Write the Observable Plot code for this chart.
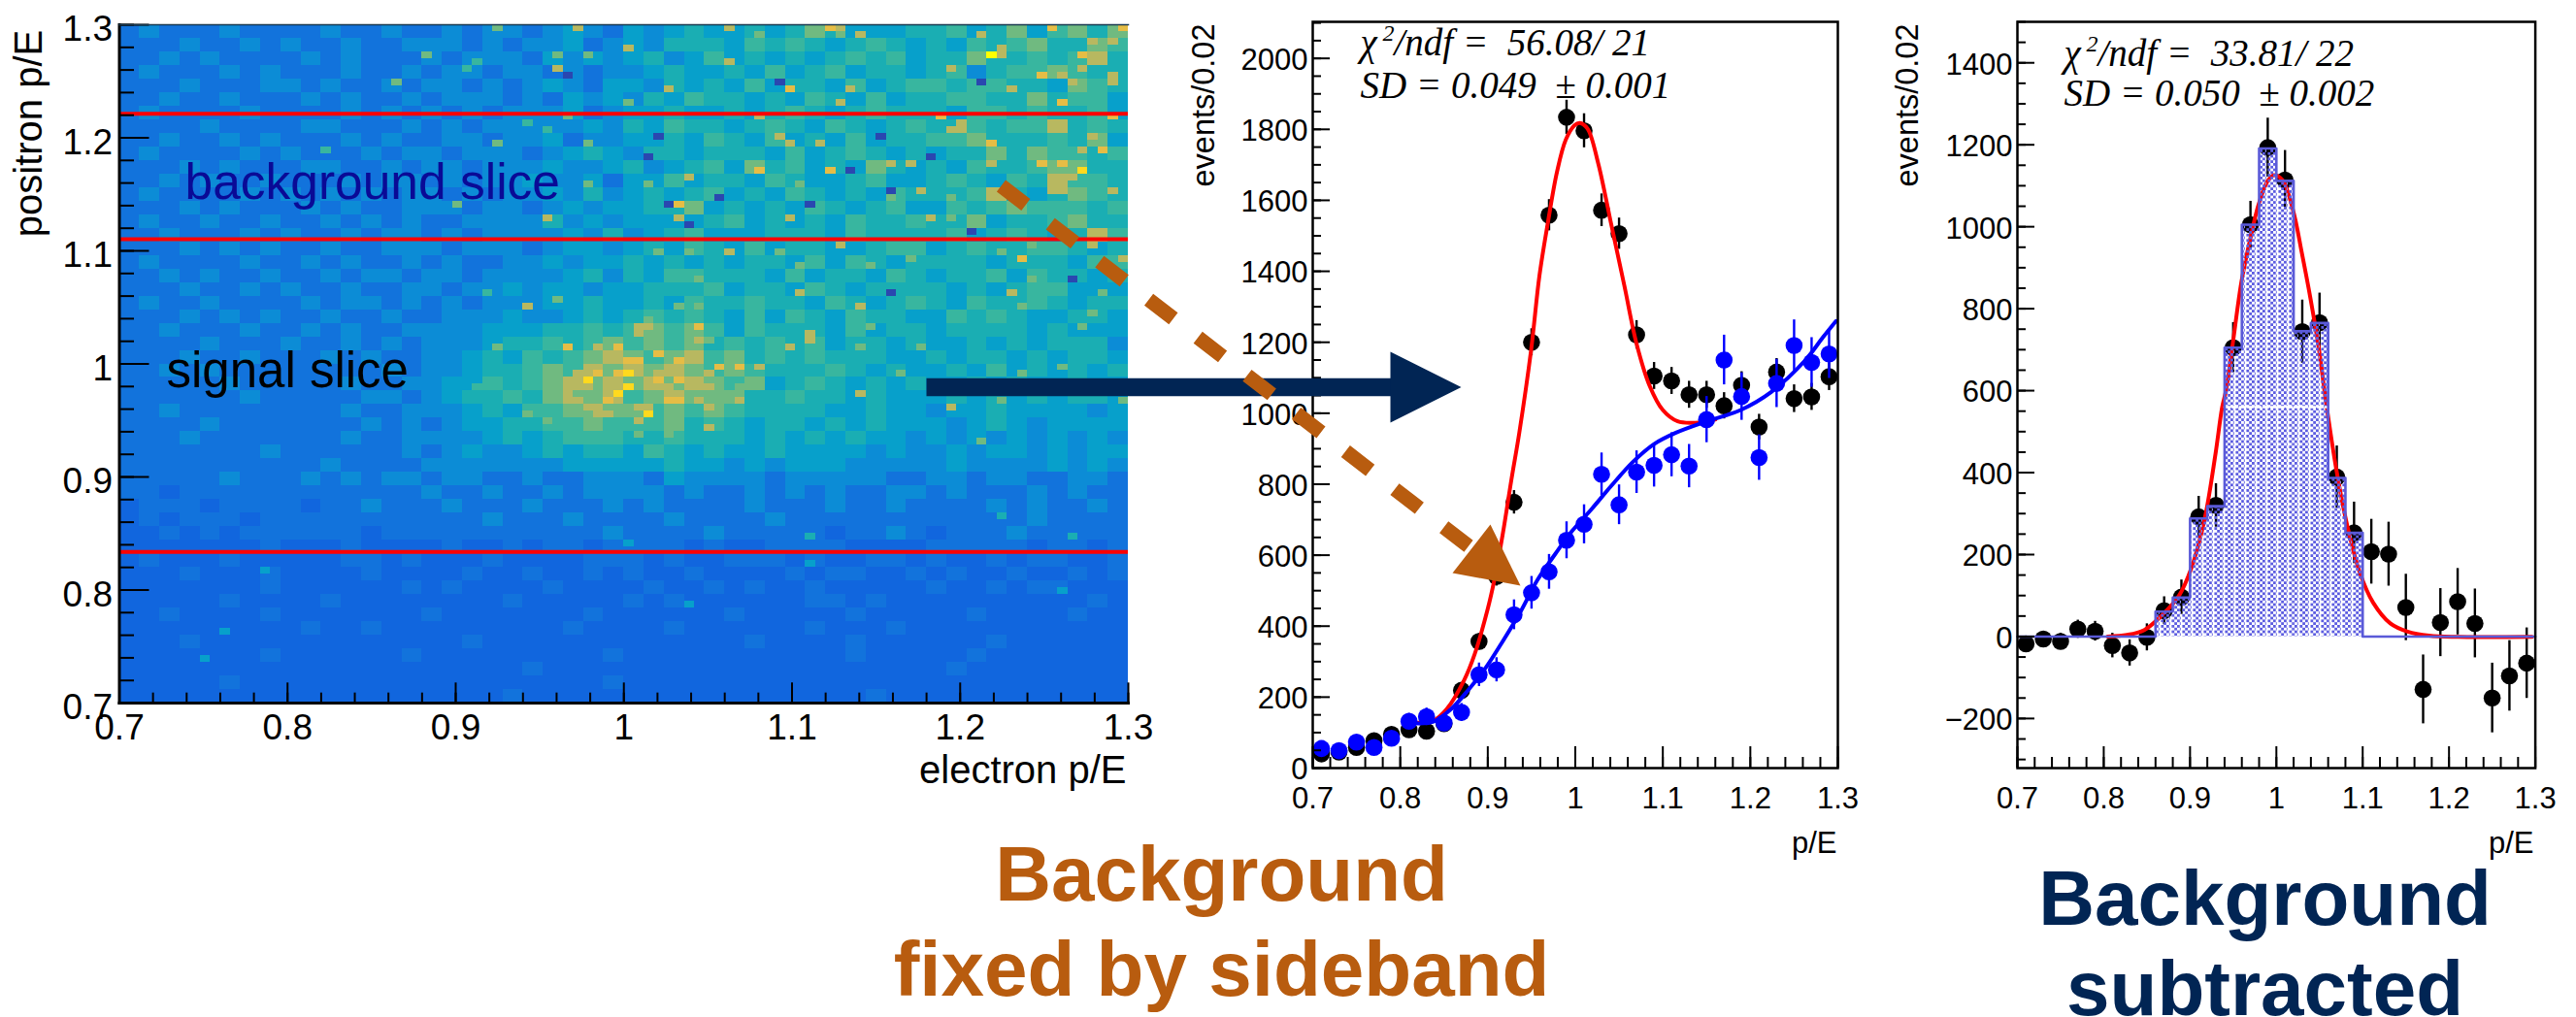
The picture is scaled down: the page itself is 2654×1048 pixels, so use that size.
<!DOCTYPE html>
<html><head><meta charset="utf-8">
<script src="https://cdn.jsdelivr.net/npm/d3@7"></script>
<script src="https://cdn.jsdelivr.net/npm/@observablehq/plot@0.6"></script>
<style>
html,body{margin:0;padding:0;background:#fff;overflow:hidden}
#page{position:relative;width:2654px;height:1048px;overflow:hidden}
#page svg.plot{position:absolute;top:0;overflow:visible;background:transparent}
</style></head><body>
<svg width="0" height="0" style="position:absolute"><defs>
<pattern id="hatch" width="11" height="5.6" patternUnits="userSpaceOnUse">
<rect x="1.4" y="0" width="2.8" height="2.8" fill="#5c5ce0"/><rect x="7" y="0" width="2.8" height="2.8" fill="#5c5ce0"/>
<rect x="4.2" y="2.8" width="2.8" height="2.8" fill="#5c5ce0"/><rect x="9.8" y="2.8" width="1.2" height="2.8" fill="#8a8ae8"/>
</pattern>
</defs></svg>
<div id="page"></div>
<script>
// ---------- heat map: coarse levels (2x2 bins each), rows top to bottom ----------
const heatRows = [
"23222322223223223233234324345445457544455645746757",
"22232232322322333232334234355546565456545465675576",
"22323222232322232333243434534645454565645575565685",
"23222323222322323323323233454454645645545635667655",
"22232223323223233232343244354546455464566566554765",
"22322322232322323332324343546554546546455665575664",
"23222232222323232323334234454454565456555466565564",
"22223222233222323233333435465545654654565565668565",
"22322323222323223323342334454654645464556675556574",
"23222232322232332333234543554555464565454557576656",
"22232322233223233233343345345647564547545465567755",
"22323223222323323233433424464554654456445654658665",
"23222232323232332323343534545645465454655568545765",
"22232322232322333233234344557454546545644656766656",
"23223223223232322333353434444564545465565574556755",
"22322232322323323233334353456444555465555645654586",
"22232323223223332333234434546546455445664565566545",
"23222232232322323223343445454545546465455554555466",
"22323223223233233233334535466555464554654556465545",
"22232232322322332334344344555645546545555454566444",
"23223222232332323233344544546556554654565465565455",
"22232323223223223334334545656546465465544656544554",
"22322232232322333344455656767646555464554555545444",
"22223222322323233345565676767565656455454454545553",
"22232232223232233454656787678675656555445455454554",
"22323222222223233455676878787676555654544546454545",
"22222322222322334465678787878767456545454454544544",
"22222232222233234556578786787775565545444545454554",
"22322222222322333454667877676765555445443445444434",
"22223222222232323445566766675654554545444345434444",
"22232222222322333345456665565554545454434343434343",
"22222223222222323433454554654544544443433434434344",
"22222222223222233333334444454434344433333433334343",
"22222322232323323322322333243333233333223323322332",
"22122222222222232232232333323223232322332322232322",
"12221222212232223222322232322223222322322223232232",
"12122212222222222232223222232222322222222222232222",
"11212122222212222222222232222322222122321222322222",
"11111112111211112112122122221211222211112222212212",
"12111211111221211121111222121122212112212112122112",
"11121112111121111211211212112111121221121211211212",
"11111112111111212111121111211212112111112112122111",
"11111211112111111112111112121111112212111111111121",
"11211112111111121111111211111121111121111121111211",
"11111111121121111111112111121111112111211111111111",
"11121111111111111211111111111112111121111112111111",
"11111112111111211111111121111111111121111121111111",
"11111111111111111111211111111111111111111211111111",
"11111211111111111111111121111111111111111111111111",
"11111111111111111112111111111111111112111111111111"
];
// ---------- individual heat-map bins (100x100 grid) ----------
const hotCols = [37,45,30,43,27,44,40,42,33,43,37,36,44,47,49,40,42,37,46,46,44,20,34,35,43,46,
50,60,70,71,71,73,63,92,99,85,86,87,87,95,95,96,98,60,82,91,93,98,98,66,54,72,88,94,71,93,50,63,81,98,83,82,83,65,66,69,86,96,97,95,63,70,72,95,91,93,76,78,86,56,92,94,52,67,79,98,92,93,55,54,68,76,82,55,66,80,82,71,96,90,53,56,60,65,87,89,99,78,74,67,57,90,67,88,97,55,73,89,57,96,57,51,52,52,74,95,68,68,51,57,58,66,73,79,53,55,50,51,
50,53,58,59,61,63,53,55,50,54,56,58,61,73,54,55,57,61,52,58,51,52,51,54,58,51,54,82,99,87,85,89,93,77,
46,47,45,49,49,48,44,46,48,49,45,40,46,48,42,47,35,
85,65,53,75,80,59,76,52,56,84,94,76,
8,10,14,56,93,94,87,68,50,68];
const hotRows = [0,0,4,6,8,7,41,28,26,40,47,39,47,47,47,14,15,17,17,23,13,18,6,5,4,4,
3,0,0,0,1,1,1,0,0,1,4,3,4,4,6,2,2,5,6,7,7,7,8,9,9,9,9,8,11,11,11,13,13,13,14,15,15,16,17,17,17,16,18,18,21,21,21,21,20,20,20,20,20,22,22,22,23,23,24,24,24,24,26,26,26,25,25,28,28,28,28,32,32,32,33,33,33,33,33,34,34,34,35,35,37,37,39,39,39,41,41,41,41,42,44,44,44,43,44,44,45,46,45,46,46,47,47,47,48,49,49,49,
51,51,51,50,50,50,52,52,53,53,53,53,53,54,55,55,55,55,57,56,56,56,58,58,59,60,60,56,55,55,61,51,50,51,
52,51,51,51,54,55,53,53,53,52,54,57,57,57,58,50,53,
8,8,16,16,19,25,24,19,29,30,37,39,
93,89,80,85,83,75,72,75,76,79];
const hotLevels = [7,8,7,8,7,0,8,8,7,7,7,6,9,8,9,6,6,7,7,7,7,6,6,6,7,7,
8,8,9,8,7,8,7,9,9,8,11,8,8,9,8,8,8,8,8,9,8,8,8,9,8,8,8,8,8,9,7,8,9,9,8,8,8,8,8,8,9,8,9,8,9,9,0,10,9,9,8,8,8,8,8,8,7,7,8,8,8,8,9,0,0,7,7,8,8,8,7,8,8,7,7,7,8,7,7,9,8,7,7,7,7,7,8,8,7,7,8,7,7,7,9,8,8,7,7,7,8,8,8,8,7,8,7,7,9,9,9,9,
10,8,8,9,9,8,9,9,10,8,8,8,7,8,9,9,8,8,10,8,8,8,8,7,8,7,7,8,7,7,7,7,7,7,
10,9,8,9,10,9,8,8,8,8,7,7,7,8,7,8,6,
0,0,0,0,0,0,0,0,0,0,0,0,
4,4,4,4,4,5,5,5,4,4];
const heatLevelColors = ["#2a47b0","#1166de","#1273dc","#0c8cd6","#07a0cb","#1aaeb3","#38b69f","#70ba80","#b8b860","#e6bd45","#ffd91e","#ffff00"];
const heatLevels = [0,1,2,3,4,5,6,7,8,9,10,11];
const sliceLines = [1.2213, 1.1103, 0.8336];
const axisTicks = [0.7,0.8,0.9,1,1.1,1.2,1.3];

// ---------- middle panel ----------
const binCenters = [0.71,0.73,0.75,0.77,0.79,0.81,0.83,0.85,0.87,0.89,0.91,0.93,0.95,0.97,0.99,1.01,1.03,1.05,1.07,1.09,1.11,1.13,1.15,1.17,1.19,1.21,1.23,1.25,1.27,1.29];
const signalEvents = [40,45,58,77,95,108,104,125,219,357,540,749,1200,1558,1834,1796,1572,1506,1221,1105,1091,1052,1052,1021,1079,961,1116,1041,1046,1103];
const signalErrors = [7,8,9,10,11,12,12,13,17,22,27,33,38,44,48,48,46,44,40,38,38,38,38,37,38,36,38,39,38,39];
const sidebandEvents = [55,49,73,58,84,132,145,127,157,263,277,432,494,553,642,687,828,742,834,853,883,851,982,1150,1047,875,1084,1191,1143,1167];
const sidebandErrors = [16,15,17,16,18,22,24,22,25,33,34,42,46,49,52,55,60,56,60,61,62,61,65,70,67,64,68,72,70,69];
const redFitX = [0.82,0.838,0.853,0.873,0.885,0.900,0.9075,0.917,0.927,0.936,0.9495,0.959,0.969,0.979,0.989,0.999,1.005,1.014,1.026,1.041,1.056,1.07,1.085,1.10,1.117,1.137,1.16];
const redFitY = [128,134,166,248,321,449,530,658,813,945,1178,1387,1542,1679,1770,1811,1818,1802,1706,1533,1360,1196,1077,1009,977,973,982];
const blueFitX = [0.82,0.838,0.858,0.878,0.898,0.917,0.937,0.957,0.977,0.996,1.019,1.041,1.066,1.09,1.115,1.15,1.189,1.224,1.263,1.283,1.298];
const blueFitY = [126,131,166,221,284,357,439,531,603,667,731,795,863,913,945,977,1009,1060,1150,1214,1260];

// ---------- right panel ----------
const subtracted = [-18,-6,-12,18,13,-22,-40,-2,63,96,292,320,705,1005,1193,1114,744,766,389,253,207,201,71,-129,34,85,32,-150,-96,-65];
const subtractedErrors = [15,17,20,22,24,30,32,33,34,42,50,53,61,57,72,72,77,72,76,75,79,78,81,84,83,81,84,85,86,86];
const histEdges = [0.70,0.72,0.74,0.76,0.78,0.80,0.82,0.84,0.86,0.88,0.90,0.92,0.94,0.96,0.98,1.00,1.02,1.04,1.06,1.08,1.10,1.12,1.14,1.16,1.18,1.20,1.22,1.24,1.26,1.28,1.30];
const histValues = [0,0,0,0,0,0,0,0,61,95,288,318,705,1005,1191,1112,745,765,387,253,0,0,0,0,0,0,0,0,0,0];
const gaussFitX = [0.8045,0.827,0.847,0.867,0.887,0.902,0.917,0.9295,0.937,0.942,0.9495,0.9595,0.9695,0.9795,0.9895,0.997,1.007,1.0195,1.0295,1.0395,1.0495,1.057,1.0695,1.082,1.097,1.112,1.132,1.152,1.177,1.21,1.296];
const gaussFitY = [0,4,16,51,99,170,288,446,557,604,715,865,968,1055,1110,1126,1114,1039,936,825,699,580,407,272,154,83,32,12,2,-1,-1];

// ---------- annotation text ----------
const sansFont = "Liberation Sans, Arial, Helvetica, sans-serif";
const serifFont = "Liberation Serif, Times New Roman, serif";
const nb = "\u00a0";

const fmt = d => String(d).replace("-", "\u2212");
const rng = (a, b, s) => d3.range(Math.round((b - a) / s) + 1).map(i => +(a + i * s).toFixed(4));

// inward ticks are rules whose length is converted from pixels to data units
function axesFor({xDomain, yDomain, plotW, plotH, xMajor, xMinor, yMajor, yMinor, xLen, yLen, fontSize, xPad, yPad, yDy}) {
  const perPxY = (yDomain[1] - yDomain[0]) / plotH;
  const perPxX = (xDomain[1] - xDomain[0]) / plotW;
  const xt = (vals, len) => Plot.ruleX(vals, {x:d => d, y1:() => yDomain[0], y2:() => yDomain[0] + len * perPxY, stroke:"#000", strokeWidth:2});
  const yt = (vals, len) => Plot.ruleY(vals, {y:d => d, x1:() => xDomain[0], x2:() => xDomain[0] + len * perPxX, stroke:"#000", strokeWidth:2});
  return [
    xt(xMinor, xLen/2), xt(xMajor, xLen),
    yt(yMinor, yLen/2), yt(yMajor, yLen),
    Plot.axisX(xMajor, {anchor:"bottom", tickSize:0, tickPadding:xPad, tickFormat:fmt, label:null, fontSize}),
    Plot.axisY(yMajor, {anchor:"left", tickSize:0, tickPadding:yPad, tickFormat:fmt, label:null, fontSize, dy:yDy})
  ];
}
const page = document.getElementById("page");
function place(svg, left) { svg.style.left = left + "px"; page.appendChild(svg); }

// ---------- heat map panel ----------
const heatCells = [];
heatRows.forEach((row, r) => [...row].forEach((c, k) => {
  heatCells.push({x1:0.7+k*0.012, x2:0.7+(k+1)*0.012, y1:1.3-(r+1)*0.012, y2:1.3-r*0.012, level:+c});
}));
hotCols.forEach((c, i) => heatCells.push({x1:0.7+c*0.006, x2:0.7+(c+1)*0.006, y1:1.3-(hotRows[i]+1)*0.006, y2:1.3-hotRows[i]*0.006, level:hotLevels[i]}));

place(Plot.plot({
  width:1180, height:800, marginLeft:122.5, marginRight:18, marginTop:25, marginBottom:76,
  className:"plot",
  style:{fontFamily:sansFont, background:"transparent", overflow:"visible"},
  x:{domain:[0.7,1.3], axis:null}, y:{domain:[0.7,1.3], axis:null},
  color:{type:"linear", domain:heatLevels, range:heatLevelColors},
  marks:[
    Plot.rect(heatCells, {x1:"x1", x2:"x2", y1:"y1", y2:"y2", fill:"level", shapeRendering:"crispEdges"}),
    Plot.ruleY(sliceLines, {stroke:"#ff0000", strokeWidth:4}),
    ...axesFor({xDomain:[0.7,1.3], yDomain:[0.7,1.3], plotW:1039.5, plotH:699, xMajor:axisTicks, xMinor:rng(0.7,1.3,0.02), yMajor:axisTicks, yMinor:rng(0.7,1.3,0.02), xLen:20.7, yLen:31, fontSize:37, xPad:11, yPad:7, yDy:5}),
    Plot.frame({anchor:"left", stroke:"#000", strokeWidth:3}),
    Plot.frame({anchor:"bottom", stroke:"#000", strokeWidth:3}),
    Plot.frame({anchor:"top", stroke:"#1a3a50", strokeWidth:1.5})
  ]
}), 0);

// ---------- middle panel ----------
const errRows = (vals, errs) => binCenters.map((x, i) => ({x, y:vals[i], lo:vals[i]-errs[i], hi:vals[i]+errs[i]}));
const signalRows = errRows(signalEvents, signalErrors);
const sidebandRows = errRows(sidebandEvents, sidebandErrors);
const curve = (xs, ys) => xs.map((x, i) => ({x, y:ys[i]}));
place(Plot.plot({
  width:720, height:860, marginLeft:152, marginRight:27, marginTop:22, marginBottom:69,
  className:"plot",
  style:{fontFamily:sansFont, background:"transparent", overflow:"visible"},
  x:{domain:[0.7,1.3], axis:null}, y:{domain:[0,2103], axis:null},
  marks:[
    Plot.ruleX(signalRows, {x:"x", y1:"lo", y2:"hi", stroke:"#000", strokeWidth:2.4}),
    Plot.dot(signalRows, {x:"x", y:"y", r:8.8, fill:"#000"}),
    Plot.line(curve(redFitX, redFitY), {x:"x", y:"y", stroke:"#ff0000", strokeWidth:4, curve:"catmull-rom"}),
    Plot.ruleX(sidebandRows, {x:"x", y1:"lo", y2:"hi", stroke:"#0000ff", strokeWidth:2.4}),
    Plot.dot(sidebandRows, {x:"x", y:"y", r:8.8, fill:"#0000ff"}),
    Plot.line(curve(blueFitX, blueFitY), {x:"x", y:"y", stroke:"#0000ff", strokeWidth:4, curve:"catmull-rom"}),
    ...axesFor({xDomain:[0.7,1.3], yDomain:[0,2103], plotW:541, plotH:769, xMajor:axisTicks, xMinor:rng(0.7,1.3,0.02), yMajor:rng(0,2000,200), yMinor:rng(0,2100,50), xLen:22, yLen:18, fontSize:31, xPad:19, yPad:5, yDy:2}),
    Plot.frame({stroke:"#000", strokeWidth:2.5})
  ]
}), 1200);

// ---------- right panel ----------
const subRows = binCenters.map((x, i) => ({x, y:subtracted[i], lo:subtracted[i]-subtractedErrors[i], hi:subtracted[i]+subtractedErrors[i]}));
const histRows = histValues.map((v, i) => ({x1:histEdges[i], x2:histEdges[i+1], y:v}));
const histOutline = histEdges.map((x, i) => ({x, y:i < histValues.length ? histValues[i] : histValues[histValues.length-1]}));
place(Plot.plot({
  width:704, height:860, marginLeft:128, marginRight:42.4, marginTop:22, marginBottom:69,
  className:"plot",
  style:{fontFamily:sansFont, background:"transparent", overflow:"visible"},
  x:{domain:[0.7,1.3], axis:null}, y:{domain:[-321,1500], axis:null},
  marks:[
    Plot.ruleX(subRows, {x:"x", y1:"lo", y2:"hi", stroke:"#000", strokeWidth:2.4}),
    Plot.dot(subRows, {x:"x", y:"y", r:8.8, fill:"#000"}),
    Plot.line(curve(gaussFitX, gaussFitY), {x:"x", y:"y", stroke:"#ff0000", strokeWidth:4, curve:"catmull-rom"}),
    Plot.rectY(histRows.filter(d => d.y > 0), {x1:"x1", x2:"x2", y1:0, y2:"y", fill:"url(#hatch)"}),
    Plot.line([{x:0.94,y:560},{x:1.06,y:560}], {x:"x", y:"y", stroke:"#fff", strokeWidth:2.5, strokeDasharray:"5,3"}),
    Plot.line(histOutline, {x:"x", y:"y", stroke:"#5a5ad8", strokeWidth:2.6, curve:"step-after"}),
    ...axesFor({xDomain:[0.7,1.3], yDomain:[-321,1500], plotW:533.6, plotH:769, xMajor:axisTicks, xMinor:rng(0.7,1.3,0.02), yMajor:rng(-200,1400,200), yMinor:rng(-300,1500,50), xLen:22, yLen:18, fontSize:31, xPad:19, yPad:5, yDy:2}),
    Plot.frame({stroke:"#000", strokeWidth:2.5})
  ]
}), 1950);

// ---------- overlay: arrows and annotations ----------
const navy = "#012554", brown = "#b85c0f";
const labels = [
  {t:"positron p/E", x:42, y:137, size:40, rotate:-90, anchor:"middle", fill:"#000"},
  {t:"electron p/E", x:1160, y:806, size:40, anchor:"end", fill:"#000"},
  {t:"background slice", x:190, y:204, size:51.5, anchor:"start", fill:"#0a0a96"},
  {t:"signal slice", x:171, y:398, size:51, anchor:"start", fill:"#000"},
  {t:"events/0.02", x:1250, y:108, size:32.5, rotate:-90, anchor:"middle", fill:"#000"},
  {t:"events/0.02", x:1975, y:108, size:32.5, rotate:-90, anchor:"middle", fill:"#000"},
  {t:"p/E", x:1892, y:878, size:31, anchor:"end", fill:"#000"},
  {t:"p/E", x:2610, y:878, size:31, anchor:"end", fill:"#000"},
  {t:"Background", x:1258, y:927, size:80, anchor:"middle", bold:true, fill:brown},
  {t:"fixed by sideband", x:1258, y:1025, size:80, anchor:"middle", bold:true, fill:brown},
  {t:"Background", x:2333, y:952, size:80, anchor:"middle", bold:true, fill:navy},
  {t:"subtracted", x:2333, y:1045, size:80, anchor:"middle", bold:true, fill:navy}
];
const fitLabels = [
  {t:"\u03c7", x:1401, y:56, size:39},
  {t:"2", x:1424, y:41, size:24},
  {t:"/ndf =" + nb + nb + "56.08/ 21", x:1436, y:56, size:39},
  {t:"SD = 0.049" + nb + nb + "\u00b1 0.001", x:1401, y:100, size:39},
  {t:"\u03c7", x:2126, y:67, size:39},
  {t:"2", x:2149, y:52, size:24},
  {t:"/ndf =" + nb + nb + "33.81/ 22", x:2161, y:67, size:39},
  {t:"SD = 0.050" + nb + nb + "\u00b1 0.002", x:2126, y:108, size:39}
];
const textMark = d => Plot.text([d], {x:"x", y:"y", text:"t", fontSize:d.size, textAnchor:d.anchor, fill:d.fill, rotate:d.rotate || 0, fontWeight:d.bold ? "bold" : "normal", lineAnchor:"bottom"});
const fitMark = d => Plot.text([d], {x:"x", y:"y", text:"t", fontSize:d.size, textAnchor:"start", fontStyle:"italic", fontFamily:serifFont, fill:"#000", lineAnchor:"bottom"});
const overlayPt = (x, y) => ({x, y});
place(Plot.plot({
  width:2654, height:1048, margin:0,
  className:"plot",
  style:{fontFamily:sansFont, background:"transparent", overflow:"visible"},
  x:{domain:[0,2654], range:[0,2654], axis:null}, y:{domain:[0,1048], range:[0,1048], axis:null},
  marks:[
    Plot.line([overlayPt(954,398.5), overlayPt(1435,398.5)], {x:"x", y:"y", stroke:navy, strokeWidth:18.5, strokeLinecap:"butt"}),
    Plot.line([overlayPt(1432,362), overlayPt(1505,398.5), overlayPt(1432,435)], {x:"x", y:"y", fill:navy, stroke:"none"}),
    Plot.line([overlayPt(1031,191), overlayPt(1520,568)], {x:"x", y:"y", stroke:brown, strokeWidth:15, strokeDasharray:"32,32", strokeLinecap:"butt"}),
    Plot.line([overlayPt(1535,540), overlayPt(1566,603), overlayPt(1496,590)], {x:"x", y:"y", fill:brown, stroke:"none"}),
    ...labels.map(textMark),
    ...fitLabels.map(fitMark)
  ]
}), 0);
</script>
</body></html>
